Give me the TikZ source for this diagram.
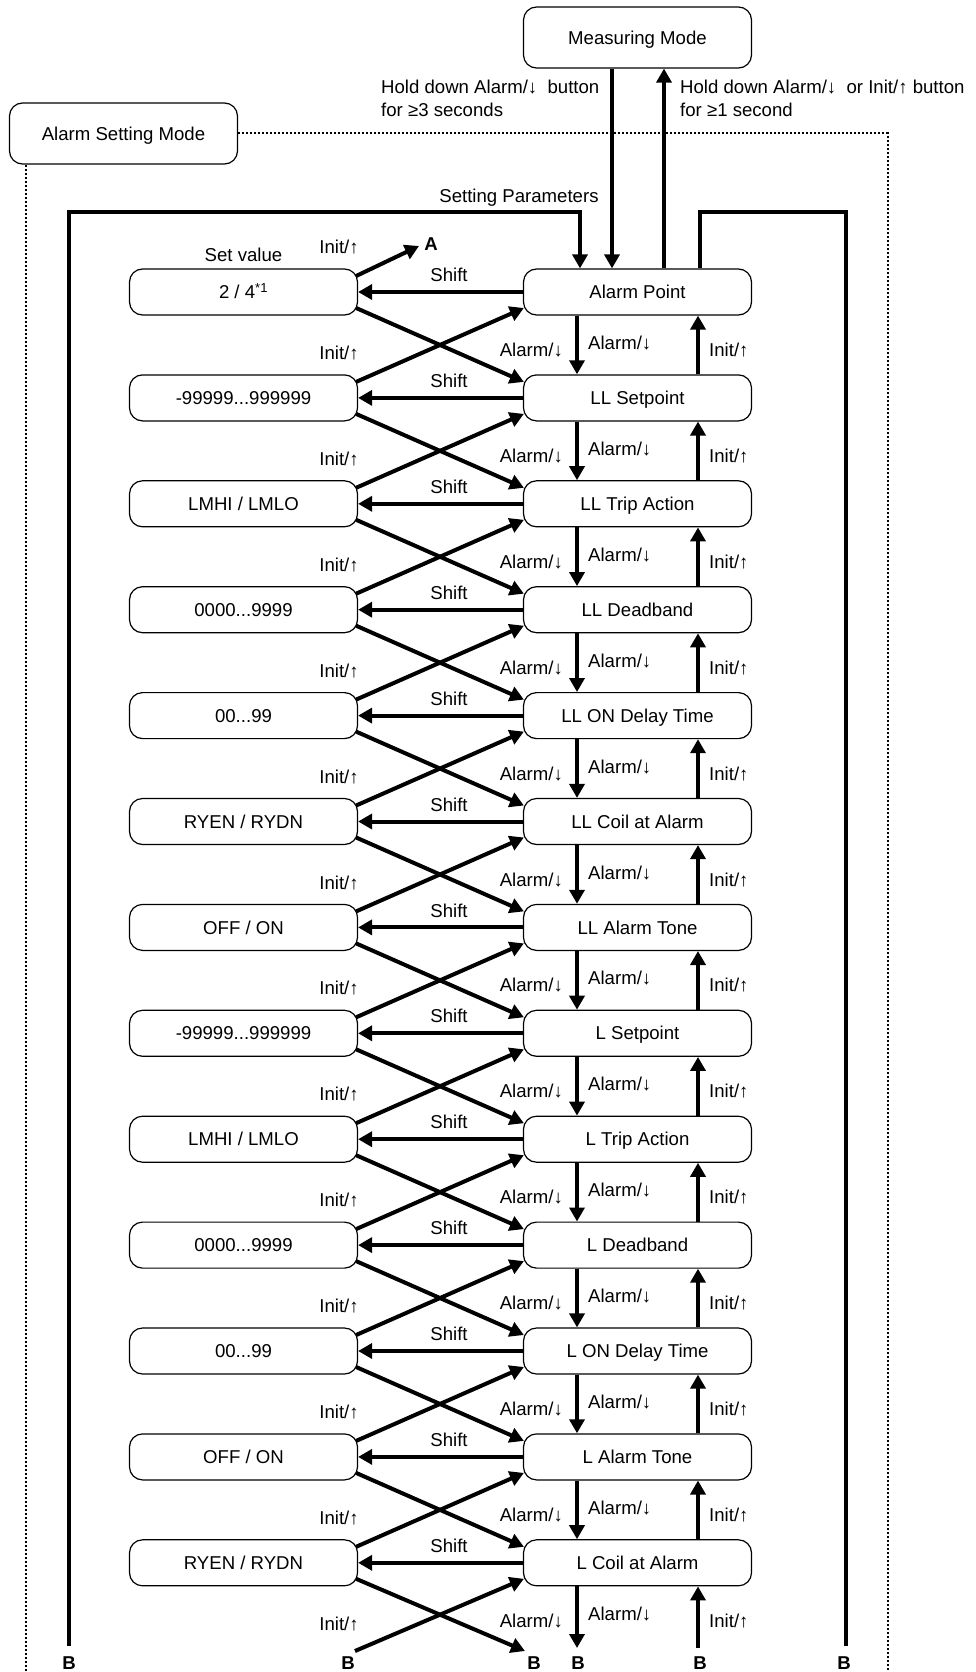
\documentclass[tikz,border=0pt]{standalone}
\usepackage{fontspec}
\setmainfont{Liberation Sans}
\usetikzlibrary{arrows.meta,calc}
\begin{document}
\begin{tikzpicture}[x=1pt,y=-1pt,
  font=\fontsize{18.6}{22}\selectfont,
  box/.style={draw, line width=1.2pt, rounded corners=13pt, minimum width=228pt, minimum height=46pt, inner sep=0pt, text height=13.2pt, text depth=0pt},
  lbl/.style={inner sep=0pt, text height=13.2pt, text depth=0pt},
  bl/.style={lbl, font=\fontsize{18.6}{22}\selectfont\bfseries},
  arr/.style={line width=4pt, -{Triangle[length=14pt,width=15pt]}},
  thk/.style={line width=4pt},
  dotl/.style={line width=2pt, dash pattern=on 2pt off 2pt},
]
\useasboundingbox (0,0) rectangle (976,1672);

% mode boxes
\node[box, minimum height=61pt] (m) at (637.5,37.5) {Measuring Mode};
\node[box, minimum height=61pt] (asm) at (123.5,133.5) {Alarm Setting Mode};

% right column
\node[box] (r0)  at (637.5,292)    {Alarm Point};
\node[box] (r1)  at (637.5,397.9)  {LL Setpoint};
\node[box] (r2)  at (637.5,503.8)  {LL Trip Action};
\node[box] (r3)  at (637.5,609.7)  {LL Deadband};
\node[box] (r4)  at (637.5,715.6)  {LL ON Delay Time};
\node[box] (r5)  at (637.5,821.5)  {LL Coil at Alarm};
\node[box] (r6)  at (637.5,927.4)  {LL Alarm Tone};
\node[box] (r7)  at (637.5,1033.3) {L Setpoint};
\node[box] (r8)  at (637.5,1139.2) {L Trip Action};
\node[box] (r9)  at (637.5,1245.1) {L Deadband};
\node[box] (r10) at (637.5,1351.0) {L ON Delay Time};
\node[box] (r11) at (637.5,1456.9) {L Alarm Tone};
\node[box] (r12) at (637.5,1562.8) {L Coil at Alarm};

% left column
\node[box] (l0)  at (243.5,292)    {2 / 4\textsuperscript{*1}};
\node[box] (l1)  at (243.5,397.9)  {-99999...999999};
\node[box] (l2)  at (243.5,503.8)  {LMHI / LMLO};
\node[box] (l3)  at (243.5,609.7)  {0000...9999};
\node[box] (l4)  at (243.5,715.6)  {00...99};
\node[box] (l5)  at (243.5,821.5)  {RYEN / RYDN};
\node[box] (l6)  at (243.5,927.4)  {OFF / ON};
\node[box] (l7)  at (243.5,1033.3) {-99999...999999};
\node[box] (l8)  at (243.5,1139.2) {LMHI / LMLO};
\node[box] (l9)  at (243.5,1245.1) {0000...9999};
\node[box] (l10) at (243.5,1351.0) {00...99};
\node[box] (l11) at (243.5,1456.9) {OFF / ON};
\node[box] (l12) at (243.5,1562.8) {RYEN / RYDN};

\node[lbl] (sv) at (243.5,255) {Set value};

% top labels
\node[lbl, anchor=west] (t1) at (381,87) {Hold down Alarm/↓\ \ button};
\node[lbl, anchor=west] (t2) at (381,110) {for ≥3 seconds};
\node[lbl, anchor=west] (t3) at (680,87) {Hold down Alarm/↓\ \ or Init/↑ button};
\node[lbl, anchor=west] (t4) at (680,110) {for ≥1 second};
\node[lbl] (sp) at (519,196) {Setting Parameters};

% dotted frame
\coordinate (dTR) at (888,133.5);
\coordinate (dBR) at (888,1672);
\coordinate (dBL) at (25.5,1672);
\draw[dotl] (asm.east) -- (dTR) -- (dBR);
\draw[dotl] ([xshift=-98pt]asm.south) -- (dBL);

% top connections
\draw[arr] ([xshift=-25.5pt]m.south) -- ([xshift=-25.5pt]r0.north);
\draw[arr] ([xshift=26.5pt]r0.north) -- ([xshift=26.5pt]m.south);

\coordinate (bX1) at (69,1646);
\coordinate (tl) at (580,212);
\coordinate (tr) at (700,212);
\coordinate (bX6) at (846,1646);
\draw[arr] (bX1) |- (tl) -- ([xshift=-57.5pt]r0.north);
\draw[thk] ([xshift=62.5pt]r0.north) -- (tr) -| (bX6);

% A arrow
\coordinate (aTip) at (419,246);
\node[bl] (A) at (431,244) {A};
\draw[arr] ([xshift=-2pt,yshift=16pt]l0.east) -- (aTip);
\node[lbl] (i00) at (339,247) {Init/↑};

% shift arrows
\foreach \i in {0,...,12}{
  \pgfmathsetmacro{\c}{292+105.9*\i}
  \draw[arr] (r\i.west) -- (l\i.east);
  \node[lbl] (sh\i) at (449,\c-17) {Shift};
}

% between rows
\foreach \i [count=\j from 1] in {0,...,11}{
  \pgfmathsetmacro{\mm}{292+105.9*\i+52.95}
  \draw[arr] ([xshift=-2pt,yshift=-16pt]l\i.east) -- ([xshift=1pt,yshift=16pt]r\j.west);
  \draw[arr] ([xshift=-2pt,yshift=16pt]l\j.east) -- ([xshift=1pt,yshift=-16pt]r\i.west);
  \draw[arr] ([xshift=-60.5pt]r\i.south) -- ([xshift=-60.5pt]r\j.north);
  \draw[arr] ([xshift=60.5pt]r\j.north) -- ([xshift=60.5pt]r\i.south);
  \node[lbl] (ci\i) at (339,\mm+8) {Init/↑};
  \node[lbl, anchor=east] (ca\i) at (563,\mm+5) {Alarm/↓};
  \node[lbl, anchor=west] (da\i) at (588,\mm-2) {Alarm/↓};
  \node[lbl, anchor=west] (ui\i) at (709,\mm+5) {Init/↑};
}

% bottom row
\coordinate (bX2) at (355,1651);
\coordinate (bX3) at (525,1651);
\coordinate (bX4) at (577,1648);
\coordinate (bX5) at (698,1648);
\draw[arr] ([xshift=-2pt,yshift=-16pt]l12.east) -- (bX3);
\draw[arr] (bX2) -- ([xshift=1pt,yshift=-16pt]r12.west);
\draw[arr] ([xshift=-60.5pt]r12.south) -- (bX4);
\draw[arr] (bX5) -- ([xshift=60.5pt]r12.south);
\node[lbl] (ci12) at (339,1623.75) {Init/↑};
\node[lbl, anchor=east] (ca12) at (563,1620.75) {Alarm/↓};
\node[lbl, anchor=west] (da12) at (588,1613.75) {Alarm/↓};
\node[lbl, anchor=west] (ui12) at (709,1620.75) {Init/↑};

% B labels
\node[bl] (B1) at (69,1663) {B};
\node[bl] (B2) at (348,1663) {B};
\node[bl] (B3) at (534,1663) {B};
\node[bl] (B4) at (578,1663) {B};
\node[bl] (B5) at (700,1663) {B};
\node[bl] (B6) at (844,1663) {B};
\end{tikzpicture}
\end{document}
